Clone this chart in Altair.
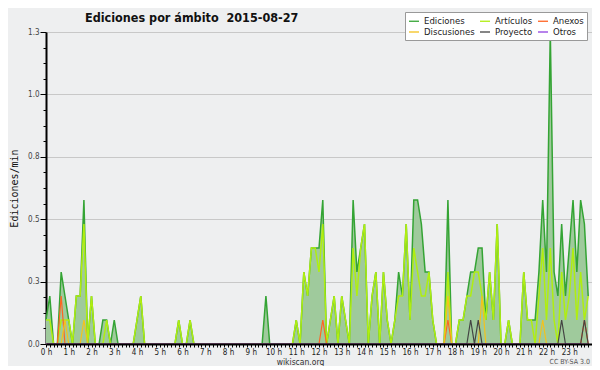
import altair as alt
import pandas as pd

# 10-minute bins over the day (144 bins), edits per minute
edic = [
    0.1, 0.2, 0, 0, 0.3, 0.2, 0.1, 0, 0.2, 0.2, 0.6, 0,
    0.2, 0, 0, 0.1, 0.1, 0, 0.1, 0, 0, 0, 0, 0,
    0.1, 0.2, 0, 0, 0, 0, 0, 0, 0, 0, 0, 0.1,
    0, 0, 0.1, 0, 0, 0, 0, 0, 0, 0, 0, 0,
    0, 0, 0, 0, 0, 0, 0, 0, 0, 0, 0.2, 0,
    0, 0, 0, 0, 0, 0, 0.1, 0, 0.3, 0.2, 0.4, 0.4,
    0.4, 0.6, 0, 0.1, 0.2, 0, 0.2, 0.1, 0, 0.6, 0.3, 0.4,
    0.5, 0, 0.2, 0.3, 0, 0.3, 0.1, 0, 0.1, 0.3, 0.2, 0.5,
    0.1, 0.6, 0.6, 0.5, 0.3, 0.3, 0.1, 0, 0, 0, 0.6, 0,
    0, 0.1, 0.1, 0.2, 0.3, 0.3, 0.4, 0.4, 0.1, 0.3, 0.1, 0.5,
    0, 0, 0.1, 0, 0, 0, 0.3, 0.1, 0.1, 0.1, 0.3, 0.6,
    0.3, 1.3, 0.3, 0.2, 0.5, 0.2, 0.4, 0.6, 0.3, 0.6, 0.5, 0.2,
]
art = [
    0.1, 0.1, 0, 0, 0.1, 0.1, 0.1, 0, 0.2, 0.2, 0.5, 0,
    0.2, 0, 0, 0, 0.1, 0, 0, 0, 0, 0, 0, 0,
    0.1, 0.2, 0, 0, 0, 0, 0, 0, 0, 0, 0, 0.1,
    0, 0, 0.1, 0, 0, 0, 0, 0, 0, 0, 0, 0,
    0, 0, 0, 0, 0, 0, 0, 0, 0, 0, 0, 0,
    0, 0, 0, 0, 0, 0, 0.1, 0, 0.3, 0.2, 0.4, 0.4,
    0.3, 0.5, 0, 0.1, 0.2, 0, 0.2, 0.1, 0, 0.4, 0.2, 0.4,
    0.5, 0, 0.2, 0.3, 0, 0.3, 0.1, 0, 0.1, 0.2, 0.2, 0.5,
    0.1, 0.4, 0.3, 0.2, 0.2, 0.3, 0.1, 0, 0, 0, 0.3, 0,
    0, 0.1, 0.1, 0.2, 0.2, 0.3, 0.3, 0.2, 0.1, 0.3, 0.1, 0.5,
    0, 0, 0.1, 0, 0, 0, 0.3, 0.1, 0.1, 0, 0.2, 0.4,
    0.1, 0.4, 0.1, 0, 0.3, 0.1, 0.2, 0.4, 0.1, 0.3, 0.1, 0.2,
]
anexos = [
    0, 0, 0, 0, 0.2, 0, 0, 0, 0, 0, 0, 0,
    0, 0, 0, 0, 0, 0, 0, 0, 0, 0, 0, 0,
    0, 0, 0, 0, 0, 0, 0, 0, 0, 0, 0, 0,
    0, 0, 0, 0, 0, 0, 0, 0, 0, 0, 0, 0,
    0, 0, 0, 0, 0, 0, 0, 0, 0, 0, 0, 0,
    0, 0, 0, 0, 0, 0, 0, 0, 0, 0, 0, 0,
    0, 0.1, 0, 0, 0, 0, 0, 0, 0, 0, 0, 0,
    0, 0, 0, 0, 0, 0, 0, 0, 0, 0, 0, 0,
    0, 0, 0, 0, 0, 0, 0, 0, 0, 0, 0.1, 0,
    0, 0, 0, 0, 0, 0, 0, 0, 0, 0, 0, 0,
    0, 0, 0, 0, 0, 0, 0, 0, 0, 0, 0, 0,
    0, 0, 0, 0, 0, 0, 0, 0, 0, 0, 0.1, 0,
]
disc = [
    0, 0, 0, 0, 0, 0.1, 0, 0, 0, 0, 0.1, 0,
    0, 0, 0, 0, 0, 0, 0, 0, 0, 0, 0, 0,
    0, 0, 0, 0, 0, 0, 0, 0, 0, 0, 0, 0,
    0, 0, 0, 0, 0, 0, 0, 0, 0, 0, 0, 0,
    0, 0, 0, 0, 0, 0, 0, 0, 0, 0, 0, 0,
    0, 0, 0, 0, 0, 0, 0, 0, 0, 0, 0, 0,
    0, 0, 0, 0, 0, 0, 0, 0, 0, 0, 0, 0,
    0, 0, 0, 0, 0, 0, 0, 0, 0, 0, 0, 0,
    0, 0, 0, 0, 0, 0, 0, 0, 0, 0, 0.2, 0,
    0, 0, 0, 0, 0, 0, 0, 0.2, 0, 0, 0, 0,
    0, 0, 0, 0, 0, 0, 0, 0, 0, 0, 0, 0.1,
    0, 0, 0, 0, 0, 0, 0, 0, 0, 0, 0, 0,
]
proy = [
    0, 0, 0, 0, 0, 0, 0, 0, 0, 0, 0, 0,
    0, 0, 0, 0, 0, 0, 0, 0, 0, 0, 0, 0,
    0, 0, 0, 0, 0, 0, 0, 0, 0, 0, 0, 0,
    0, 0, 0, 0, 0, 0, 0, 0, 0, 0, 0, 0,
    0, 0, 0, 0, 0, 0, 0, 0, 0, 0, 0, 0,
    0, 0, 0, 0, 0, 0, 0, 0, 0, 0, 0, 0,
    0, 0, 0, 0, 0, 0, 0, 0, 0, 0, 0, 0,
    0, 0, 0, 0, 0, 0, 0, 0, 0, 0, 0, 0,
    0, 0, 0, 0, 0, 0, 0, 0, 0, 0, 0, 0,
    0, 0, 0, 0, 0.1, 0, 0.1, 0, 0, 0, 0, 0,
    0, 0, 0, 0, 0, 0, 0, 0, 0, 0, 0, 0,
    0, 0, 0, 0, 0.1, 0, 0, 0, 0, 0, 0.1, 0,
]
otros = [0] * 144

series_names = ["Ediciones", "Artículos", "Anexos", "Discusiones", "Proyecto", "Otros"]
series_colors = ["#34a434", "#b0ee10", "#ff6422", "#f4c21c", "#444444", "#9040e0"]
fill_color = "#9fca9c"

title_text = "Ediciones por ámbito\u00a0\u00a02015-08-27"
y_title = "Ediciones/min"
x_title = "wikiscan.org"
credit = "CC BY-SA 3.0"

minutes = [i * 10 for i in range(144)]
wide = pd.DataFrame({"t": minutes, "Ediciones": edic, "Artículos": art,
                     "Anexos": anexos, "Discusiones": disc, "Proyecto": proy,
                     "Otros": otros})
long = wide.melt(id_vars="t", var_name="serie", value_name="v")

FONT = "DejaVu Sans Condensed, DejaVu Sans"
W, H = 546, 312

x_ticks = list(range(0, 1441, 10))
y_ticks = [round(0.065 * k, 4) for k in range(21)]
y_major = "abs(datum.value/0.26 - round(datum.value/0.26)) < 0.01"

x_scale = alt.Scale(domain=[0, 1440], nice=False, zero=False)
y_scale = alt.Scale(domain=[0, 1.3], nice=False)

x_axis = alt.Axis(
    values=x_ticks, title=x_title, grid=False,
    labelExpr="(datum.value % 60 == 0 && datum.value < 1440) ? (datum.value/60) + ' h' : ''",
    labelOverlap=False, labelFlush=False, labelFont=FONT, labelFontSize=8,
    labelColor="#222", labelPadding=1, tickSize=3, tickColor="#000",
    domainColor="#000", domainWidth=2, zindex=1,
    titleFont=FONT, titleFontSize=8.5, titleFontWeight="normal", titleColor="#333",
    titleX=254, titleY=17, titleBaseline="middle", titleAnchor="middle",
)
y_axis = alt.Axis(
    values=y_ticks, title=y_title,
    labelExpr=f"({y_major}) ? format(datum.value, '.1f') : ''",
    labelOverlap=False, labelFont=FONT, labelFontSize=8, labelColor="#444",
    labelPadding=1,
    tickSize={"condition": {"test": y_major, "value": 6}, "value": 3},
    tickColor="#000", domainColor="#000", domainWidth=2,
    grid=True, gridColor="#c8c8c8", gridWidth=1,
    gridOpacity={"condition": {"test": y_major, "value": 1}, "value": 0},
    titleFont="DejaVu Sans Mono", titleFontSize=10, titleFontWeight="normal",
    titleColor="#111", titleAngle=270, titleX=-32, titleY=156,
    titleAlign="center", titleBaseline="middle",
)

X = alt.X("t:Q", scale=x_scale, axis=x_axis)
Y = alt.Y("v:Q", scale=y_scale, axis=y_axis)

color = alt.Color(
    "serie:N",
    scale=alt.Scale(domain=series_names, range=series_colors),
    legend=alt.Legend(
        title=None, orient="none", legendX=359, legendY=-20, columns=3,
        direction="horizontal",
        symbolType="stroke", symbolSize=100, symbolStrokeWidth=1.3,
        labelFont=FONT, labelFontSize=9.5, labelColor="#222", labelOffset=4,
        columnPadding=2, rowPadding=0, padding=3,
        fillColor="#ffffff", strokeColor="#999999",
    ),
)

area = alt.Chart(wide).mark_area(color=fill_color, interpolate="linear").encode(
    x=X, y=alt.Y("Ediciones:Q", scale=y_scale, axis=y_axis)
)

line_layers = []
for name in series_names:
    w = 1.5 if name in ("Ediciones", "Artículos") else 1.2
    line_layers.append(
        alt.Chart(long).transform_filter(alt.datum.serie == name)
        .mark_line(strokeWidth=w, interpolate="linear")
        .encode(x=X, y=Y, color=color)
    )

credit_text = alt.Chart(pd.DataFrame({"c": [credit]})).mark_text(
    font=FONT, fontSize=7, color="#555", align="right", baseline="bottom"
).encode(x=alt.value(544), y=alt.value(333), text="c:N")

chart = alt.layer(area, *line_layers, credit_text).properties(
    width=W, height=H,
    autosize=alt.AutoSizeParams(type="none"),
    padding={"left": 38, "top": 24, "right": 0, "bottom": 22},
    background="#eeeff0",
    title=alt.TitleParams(
        text=title_text, anchor="start", frame="group", dx=39, dy=16, offset=-7,
        baseline="alphabetic", font=FONT, fontSize=12.5, fontWeight="bold",
        color="#111",
    ),
).configure_view(stroke=None)

chart.save("out.html", embed_options={"renderer": "svg", "actions": False})
